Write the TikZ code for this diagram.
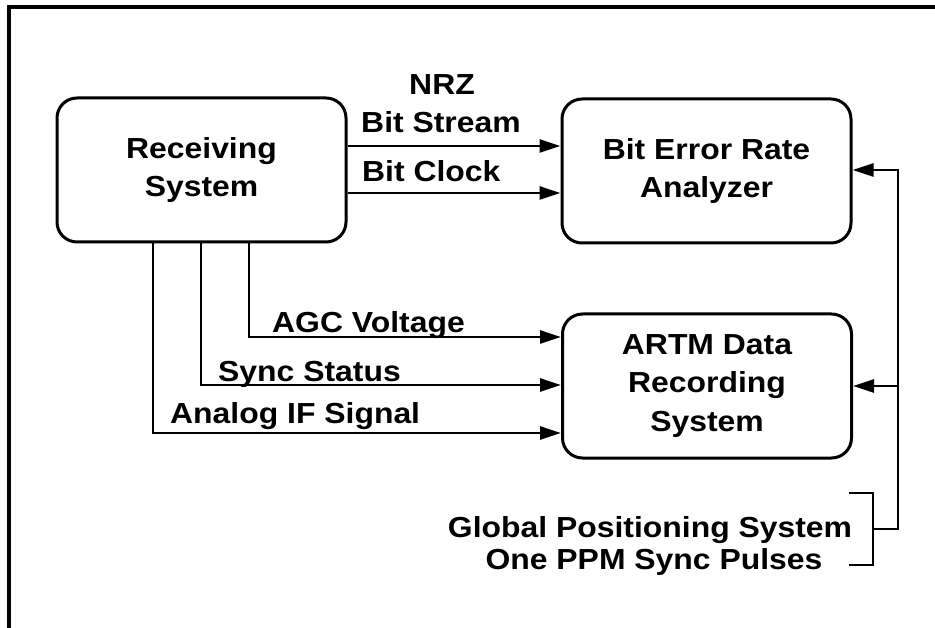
\documentclass[tikz,border=0pt]{standalone}
\usepackage{fontspec}
\setmainfont{Liberation Sans}[FakeStretch=1.1]
\usetikzlibrary{arrows.meta}

\begin{document}
\begin{tikzpicture}[x=1pt, y=-1pt,
	blk/.style={draw, line width=3pt, rounded corners=20pt, minimum width=289pt, minimum height=144pt, inner sep=0pt, align=center, font=\fontsize{29}{38.5}\selectfont\bfseries},
	lbl/.style={inner sep=0pt, font=\fontsize{29}{34}\selectfont\bfseries},
	sig/.style={line width=2.8pt, -{Triangle[length=21pt,width=13pt]}},
	wire/.style={line width=2.8pt}]

	\useasboundingbox (0,0) rectangle (935,628);
	\draw[line width=3.2pt] (9,640) -- (9,7) -- (950,7);

		    \node[blk] (rs) at (201.5,170) {Receiving\\System} ;
		    \node[blk] (ber) at (706.5,171) {Bit Error Rate\\Analyzer} ;
		    \node[blk] (artm) at (707,386) {ARTM Data\\Recording\\System} ;

		    \node[lbl, anchor=base] (nrz) at (442,95) {NRZ} ;
		    \node[lbl, anchor=base] (bstream) at (441,133) {Bit Stream} ;
		    \node[lbl, anchor=base west] (bclock) at (362,182) {Bit Clock} ;
		    \node[lbl, anchor=base west] (agc) at (272,333) {AGC Voltage} ;
		    \node[lbl, anchor=base west] (sync) at (218,382) {Sync Status} ;
		    \node[lbl, anchor=base west] (analog) at (170,424) {Analog IF Signal} ;
		    \node[lbl, anchor=base] (gps) at (650,537) {Global Positioning System} ;
		    \node[lbl, anchor=base] (ppm) at (654,569) {One PPM Sync Pulses} ;

		    \draw[sig] (rs.east |- 0,146) -- (ber.west |- 0,146) ;
		    \draw[sig] (rs.east |- 0,193) -- (ber.west |- 0,193) ;
		    \draw[sig] (rs.south -| 249,0) |- (artm.west |- 0,337) ;
		    \draw[sig] (rs.south -| 201,0) |- (artm.west |- 0,385) ;
		    \draw[sig] (rs.south -| 153,0) |- (artm.west |- 0,433) ;

		    \coordinate (brk) at (873,529) ;
		    \coordinate (tap) at (898,529) ;
		    \draw[wire] (849,493) -- (873,493) -- (873,565) -- (849,565) ;
		    \draw[sig] (brk) -- (tap) |- (ber.east |- 0,170) ;
		    \draw[sig] (tap |- artm.east) -- (artm.east) ;

\end{tikzpicture}
\end{document}
